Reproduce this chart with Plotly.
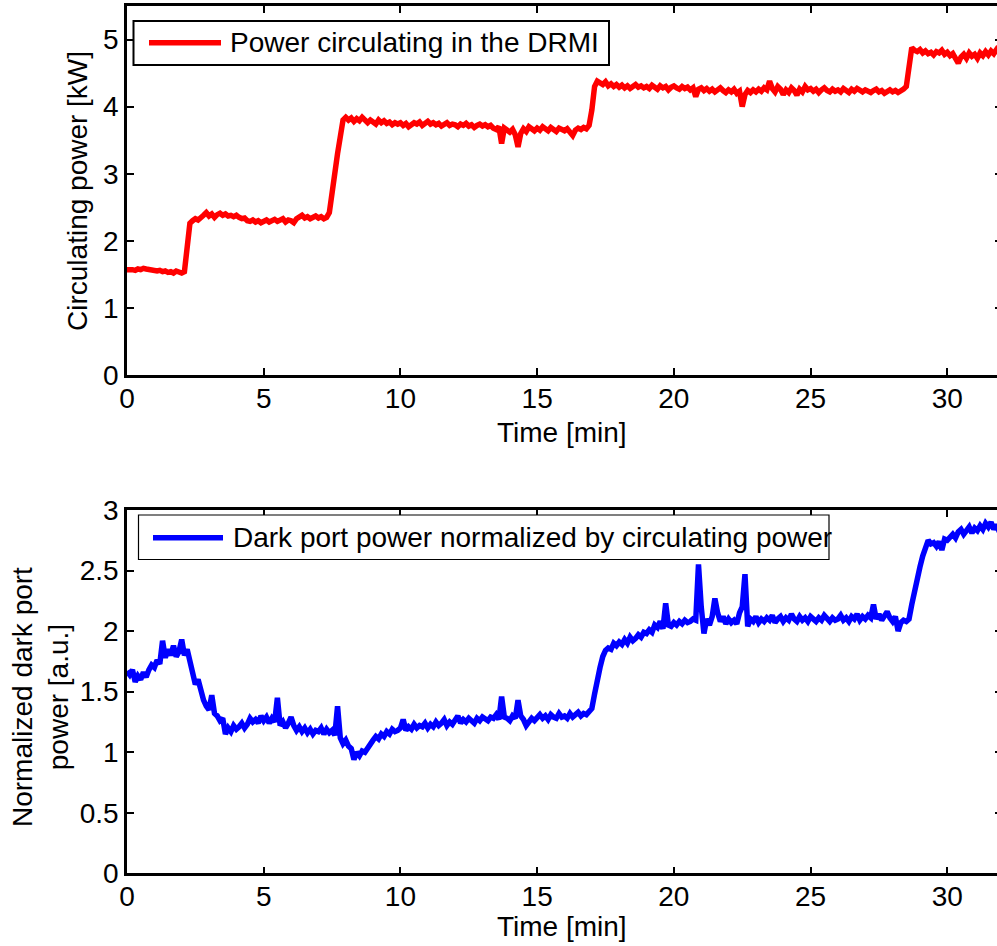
import plotly.graph_objects as go

# Sample times [min], one reading every 6 s
time_min = [
    0.0, 0.1, 0.2, 0.3, 0.4, 0.5, 0.6, 0.7, 0.8, 0.9,
    1.0, 1.1, 1.2, 1.3, 1.4, 1.5, 1.6, 1.7, 1.8, 1.9,
    2.0, 2.1, 2.2, 2.3, 2.4, 2.5, 2.6, 2.7, 2.8, 2.9,
    3.0, 3.1, 3.2, 3.3, 3.4, 3.5, 3.6, 3.7, 3.8, 3.9,
    4.0, 4.1, 4.2, 4.3, 4.4, 4.5, 4.6, 4.7, 4.8, 4.9,
    5.0, 5.1, 5.2, 5.3, 5.4, 5.5, 5.6, 5.7, 5.8, 5.9,
    6.0, 6.1, 6.2, 6.3, 6.4, 6.5, 6.6, 6.7, 6.8, 6.9,
    7.0, 7.1, 7.2, 7.3, 7.4, 7.5, 7.6, 7.7, 7.8, 7.9,
    8.0, 8.1, 8.2, 8.3, 8.4, 8.5, 8.6, 8.7, 8.8, 8.9,
    9.0, 9.1, 9.2, 9.3, 9.4, 9.5, 9.6, 9.7, 9.8, 9.9,
    10.0, 10.1, 10.2, 10.3, 10.4, 10.5, 10.6, 10.7, 10.8, 10.9,
    11.0, 11.1, 11.2, 11.3, 11.4, 11.5, 11.6, 11.7, 11.8, 11.9,
    12.0, 12.1, 12.2, 12.3, 12.4, 12.5, 12.6, 12.7, 12.8, 12.9,
    13.0, 13.1, 13.2, 13.3, 13.4, 13.5, 13.6, 13.7, 13.8, 13.9,
    14.0, 14.1, 14.2, 14.3, 14.4, 14.5, 14.6, 14.7, 14.8, 14.9,
    15.0, 15.1, 15.2, 15.3, 15.4, 15.5, 15.6, 15.7, 15.8, 15.9,
    16.0, 16.1, 16.2, 16.3, 16.4, 16.5, 16.6, 16.7, 16.8, 16.9,
    17.0, 17.1, 17.2, 17.3, 17.4, 17.5, 17.6, 17.7, 17.8, 17.9,
    18.0, 18.1, 18.2, 18.3, 18.4, 18.5, 18.6, 18.7, 18.8, 18.9,
    19.0, 19.1, 19.2, 19.3, 19.4, 19.5, 19.6, 19.7, 19.8, 19.9,
    20.0, 20.1, 20.2, 20.3, 20.4, 20.5, 20.6, 20.7, 20.8, 20.9,
    21.0, 21.1, 21.2, 21.3, 21.4, 21.5, 21.6, 21.7, 21.8, 21.9,
    22.0, 22.1, 22.2, 22.3, 22.4, 22.5, 22.6, 22.7, 22.8, 22.9,
    23.0, 23.1, 23.2, 23.3, 23.4, 23.5, 23.6, 23.7, 23.8, 23.9,
    24.0, 24.1, 24.2, 24.3, 24.4, 24.5, 24.6, 24.7, 24.8, 24.9,
    25.0, 25.1, 25.2, 25.3, 25.4, 25.5, 25.6, 25.7, 25.8, 25.9,
    26.0, 26.1, 26.2, 26.3, 26.4, 26.5, 26.6, 26.7, 26.8, 26.9,
    27.0, 27.1, 27.2, 27.3, 27.4, 27.5, 27.6, 27.7, 27.8, 27.9,
    28.0, 28.1, 28.2, 28.3, 28.4, 28.5, 28.6, 28.7, 28.8, 28.9,
    29.0, 29.1, 29.2, 29.3, 29.4, 29.5, 29.6, 29.7, 29.8, 29.9,
    30.0, 30.1, 30.2, 30.3, 30.4, 30.5, 30.6, 30.7, 30.8, 30.9,
    31.0, 31.1, 31.2, 31.3, 31.4, 31.5, 31.6, 31.7, 31.8, 31.9,
]

# Power circulating in the DRMI [kW]
circ_power_kw = [
    1.57, 1.58, 1.57, 1.56, 1.58, 1.57, 1.59, 1.58, 1.57, 1.56,
    1.57, 1.55, 1.56, 1.54, 1.55, 1.53, 1.54, 1.52, 1.55, 1.53,
    1.52, 1.54, 1.90, 2.26, 2.30, 2.33, 2.31, 2.36, 2.38, 2.42,
    2.37, 2.40, 2.35, 2.39, 2.41, 2.38, 2.40, 2.37, 2.38, 2.36,
    2.38, 2.35, 2.33, 2.34, 2.30, 2.29, 2.31, 2.28, 2.30, 2.27,
    2.29, 2.31, 2.28, 2.30, 2.32, 2.29, 2.30, 2.33, 2.28, 2.31,
    2.30, 2.27, 2.33, 2.35, 2.38, 2.34, 2.36, 2.33, 2.35, 2.37,
    2.34, 2.36, 2.33, 2.35, 2.42, 2.75, 3.05, 3.30, 3.55, 3.80,
    3.84, 3.80, 3.83, 3.78, 3.82, 3.79, 3.84, 3.81, 3.76, 3.80,
    3.78, 3.74, 3.80, 3.76, 3.79, 3.75, 3.77, 3.73, 3.76, 3.74,
    3.76, 3.72, 3.75, 3.70, 3.73, 3.76, 3.74, 3.77, 3.72, 3.75,
    3.78, 3.74, 3.76, 3.73, 3.75, 3.71, 3.74, 3.76, 3.72, 3.74,
    3.73, 3.70, 3.74, 3.72, 3.75, 3.71, 3.73, 3.69, 3.72, 3.74,
    3.71, 3.73, 3.70, 3.72, 3.68, 3.66, 3.70, 3.45, 3.68, 3.65,
    3.62, 3.66, 3.58, 3.40, 3.60, 3.67, 3.63, 3.70, 3.66, 3.64,
    3.68, 3.65, 3.70, 3.67, 3.64, 3.69, 3.66, 3.63, 3.68, 3.65,
    3.64, 3.67, 3.62, 3.57, 3.65, 3.68, 3.66, 3.69, 3.67, 3.72,
    3.95, 4.30, 4.38, 4.35, 4.33, 4.37, 4.31, 4.34, 4.30, 4.33,
    4.29, 4.32, 4.28, 4.31, 4.27, 4.30, 4.33, 4.29, 4.31, 4.28,
    4.30, 4.27, 4.32, 4.29, 4.26, 4.31, 4.28, 4.30, 4.25, 4.29,
    4.31, 4.28, 4.26, 4.30, 4.27, 4.29, 4.25, 4.28, 4.15, 4.26,
    4.28, 4.24, 4.27, 4.23, 4.26, 4.22, 4.25, 4.28, 4.24, 4.21,
    4.25, 4.22, 4.26, 4.20, 4.23, 4.00, 4.18, 4.24, 4.21, 4.25,
    4.22, 4.26, 4.23, 4.28, 4.25, 4.38, 4.27, 4.22, 4.30, 4.26,
    4.18, 4.25, 4.21, 4.28, 4.24, 4.17, 4.26, 4.22, 4.30, 4.25,
    4.27, 4.23, 4.26, 4.21, 4.25, 4.28, 4.24, 4.22, 4.26, 4.23,
    4.25, 4.22, 4.27, 4.24, 4.21, 4.26, 4.23, 4.27, 4.24, 4.22,
    4.25, 4.23, 4.21, 4.24, 4.26, 4.22, 4.24, 4.20, 4.23, 4.25,
    4.22, 4.24, 4.21, 4.23, 4.26, 4.30, 4.60, 4.88, 4.84, 4.82,
    4.85, 4.80, 4.83, 4.79, 4.81, 4.77, 4.82, 4.80, 4.84, 4.78,
    4.81, 4.76, 4.79, 4.70, 4.65, 4.74, 4.78, 4.72, 4.80, 4.75,
    4.78, 4.72, 4.80, 4.76, 4.82, 4.77, 4.83, 4.79, 4.85, 4.80,
]

# Dark port power normalized by circulating power [a.u.]
dark_port_norm = [
    1.67, 1.64, 1.68, 1.58, 1.63, 1.60, 1.66, 1.62, 1.68, 1.72,
    1.70, 1.76, 1.73, 1.92, 1.78, 1.85, 1.80, 1.88, 1.79, 1.83,
    1.93, 1.80, 1.85, 1.74, 1.68, 1.56, 1.60, 1.50, 1.43, 1.38,
    1.35, 1.47, 1.32, 1.30, 1.26, 1.28, 1.15, 1.20, 1.17, 1.22,
    1.19, 1.21, 1.24, 1.20, 1.23, 1.28, 1.25, 1.27, 1.24, 1.30,
    1.26, 1.29, 1.24, 1.28, 1.25, 1.45, 1.22, 1.25, 1.20, 1.24,
    1.29, 1.22, 1.18, 1.21, 1.17, 1.20, 1.16, 1.19, 1.15, 1.18,
    1.17, 1.20, 1.15, 1.19, 1.16, 1.18, 1.14, 1.38, 1.12, 1.07,
    1.10, 1.05, 1.03, 0.94, 1.00, 0.97, 1.01, 1.00, 1.04, 1.07,
    1.10, 1.13, 1.11, 1.15, 1.13, 1.17, 1.15, 1.19, 1.17, 1.18,
    1.20, 1.27, 1.18, 1.21, 1.19, 1.23, 1.20, 1.22, 1.21, 1.24,
    1.20, 1.23, 1.21, 1.25, 1.22, 1.24, 1.27, 1.22, 1.25, 1.23,
    1.26, 1.30, 1.24, 1.27, 1.25, 1.28, 1.26, 1.24, 1.28, 1.26,
    1.29, 1.27, 1.26, 1.29, 1.28, 1.31, 1.27, 1.46, 1.29, 1.28,
    1.26, 1.30, 1.28, 1.43, 1.30, 1.27, 1.22, 1.25, 1.28, 1.26,
    1.29, 1.31, 1.28, 1.30, 1.27, 1.31, 1.29, 1.28, 1.32, 1.29,
    1.30, 1.28, 1.32, 1.29, 1.31, 1.33, 1.30, 1.32, 1.31, 1.33,
    1.36, 1.48, 1.62, 1.70, 1.79, 1.84, 1.86, 1.85, 1.90, 1.88,
    1.91, 1.89, 1.93, 1.90, 1.95, 1.92, 1.94, 1.97, 1.95, 1.99,
    1.98, 2.01, 1.99, 2.05, 2.03, 2.08, 2.02, 2.23, 2.05, 2.04,
    2.07, 2.05, 2.08, 2.06, 2.09, 2.07, 2.08, 2.10, 2.09, 2.55,
    2.20, 1.98, 2.10, 2.05, 2.12, 2.27, 2.15, 2.08, 2.12, 2.06,
    2.10, 2.07, 2.09, 2.06, 2.15, 2.20, 2.47, 2.04, 2.10, 2.08,
    2.12, 2.07, 2.10, 2.08, 2.11, 2.09, 2.13, 2.07, 2.10, 2.12,
    2.08, 2.11, 2.09, 2.14, 2.10, 2.08, 2.12, 2.09, 2.11, 2.08,
    2.12, 2.10, 2.08, 2.11, 2.09, 2.13, 2.10, 2.08, 2.11, 2.09,
    2.10, 2.13, 2.09, 2.11, 2.08, 2.12, 2.10, 2.14, 2.09, 2.12,
    2.10, 2.13, 2.11, 2.22, 2.10, 2.14, 2.09, 2.12, 2.16, 2.11,
    2.08, 2.12, 2.00, 2.07, 2.09, 2.08, 2.10, 2.22, 2.34, 2.45,
    2.53, 2.62, 2.70, 2.75, 2.72, 2.73, 2.70, 2.74, 2.67, 2.76,
    2.75, 2.78, 2.80, 2.77, 2.82, 2.84, 2.80, 2.83, 2.86, 2.81,
    2.85, 2.83, 2.87, 2.84, 2.89, 2.86, 2.90, 2.84, 2.88, 2.82,
]

x_ticks = [0, 5, 10, 15, 20, 25, 30]
top_y_ticks = [0, 1, 2, 3, 4, 5]
bottom_y_ticks = [0, 0.5, 1, 1.5, 2, 2.5, 3]

FONT = "Liberation Sans, Arial, Helvetica, sans-serif"
FS = 28
LINE_W = 5.5
W, H = 1002, 946
L_MARGIN = 127
PLOT_W = W - L_MARGIN


def px_x(px):
    """Horizontal pixel position -> paper coordinate."""
    return (px - L_MARGIN) / PLOT_W


def px_y(py):
    """Vertical pixel position (from top) -> paper coordinate."""
    return 1 - py / H


fig = go.Figure()
fig.add_trace(go.Scatter(
    x=time_min, y=circ_power_kw, mode="lines",
    line=dict(color="#ff0000", width=LINE_W),
    name="Power circulating in the DRMI",
    xaxis="x", yaxis="y", showlegend=False,
))
fig.add_trace(go.Scatter(
    x=time_min, y=dark_port_norm, mode="lines",
    line=dict(color="#0000ff", width=LINE_W),
    name="Dark port power normalized by circulating power",
    xaxis="x2", yaxis="y2", showlegend=False,
))

axis_common = dict(
    showline=True, linecolor="black", linewidth=2.5, mirror="ticks",
    ticks="inside", ticklen=7, tickwidth=2, tickcolor="black",
    showgrid=False, zeroline=False, automargin=False,
    tickfont=dict(family=FONT, size=FS, color="black"),
)

fig.update_layout(
    width=W, height=H, autosize=False,
    margin=dict(l=L_MARGIN, r=0, t=0, b=0, pad=0),
    paper_bgcolor="white", plot_bgcolor="white",
    font=dict(family=FONT, size=FS, color="black"),
    xaxis=dict(range=[0, 32], tickvals=x_ticks, anchor="y",
               domain=[0, 1], ticklabelstandoff=-3, **axis_common),
    yaxis=dict(range=[0, 5.5], tickvals=top_y_ticks, anchor="x",
               domain=[px_y(375), px_y(6)], **axis_common),
    xaxis2=dict(range=[0, 32], tickvals=x_ticks, anchor="y2",
                domain=[0, 1], ticklabelstandoff=-4, **axis_common),
    yaxis2=dict(range=[0, 3], tickvals=bottom_y_ticks, anchor="x2",
                domain=[px_y(873.3), px_y(510)], **axis_common),
)

shapes = []
annotations = []


def add_legend(x0, y0, x1, y1, border_w, color, line_x0, line_x1, line_y, text_x, label):
    shapes.append(dict(type="rect", xref="paper", yref="paper",
                       x0=px_x(x0), x1=px_x(x1), y0=px_y(y1), y1=px_y(y0),
                       line=dict(color="black", width=border_w),
                       fillcolor="white", layer="above"))
    shapes.append(dict(type="line", xref="paper", yref="paper",
                       x0=px_x(line_x0), x1=px_x(line_x1),
                       y0=px_y(line_y), y1=px_y(line_y),
                       line=dict(color=color, width=LINE_W), layer="above"))
    annotations.append(dict(text=label, xref="paper", yref="paper",
                            x=px_x(text_x), y=px_y(line_y),
                            xanchor="left", yanchor="middle", showarrow=False,
                            font=dict(family=FONT, size=FS, color="black")))


add_legend(133.5, 21, 609, 65, 2, "#ff0000", 149, 221, 42.7, 228,
           "Power circulating in the DRMI")
add_legend(138.5, 515, 829, 559.5, 1.2, "#0000ff", 153, 223, 537.7, 231,
           "Dark port power normalized by circulating power")

# Axis titles
for y_center in (433, 926):
    annotations.append(dict(text="Time [min]", xref="paper", yref="paper",
                            x=px_x(562), y=px_y(y_center),
                            xanchor="center", yanchor="middle", showarrow=False,
                            font=dict(family=FONT, size=FS, color="black")))
annotations.append(dict(text="Circulating power [kW]", xref="paper", yref="paper",
                        x=px_x(78), y=px_y(191), textangle=-90,
                        xanchor="center", yanchor="middle", showarrow=False,
                        font=dict(family=FONT, size=FS, color="black")))
annotations.append(dict(text="Normalized dark port<br>power [a.u.]",
                        xref="paper", yref="paper",
                        x=px_x(40), y=px_y(697), textangle=-90,
                        xanchor="center", yanchor="middle", showarrow=False,
                        font=dict(family=FONT, size=FS, color="black")))

fig.update_layout(shapes=shapes, annotations=annotations)

fig.write_html(
    "out.html",
    post_script="document.documentElement.style.overflow='hidden';"
                "document.body.style.overflow='hidden';",
)
